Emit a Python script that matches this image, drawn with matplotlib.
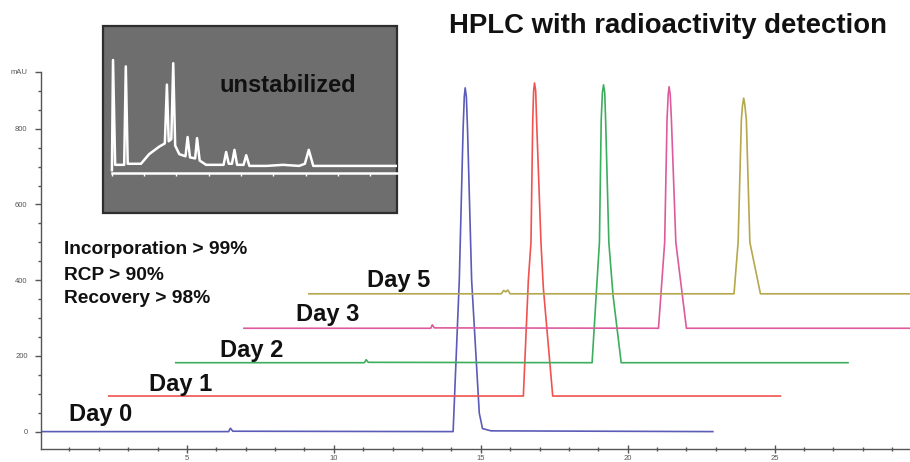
import numpy as np
import matplotlib
matplotlib.use('Agg')
import matplotlib.pyplot as plt
from matplotlib.ticker import MultipleLocator, FixedLocator

plt.rcParams['font.family'] = ['Liberation Sans', 'DejaVu Sans']

# chromatogram traces: time (min), signal (mAU)
day0_t = [0.0, 6.42, 6.48, 6.56, 14.06, 14.27, 14.40, 14.44, 14.47, 14.51, 14.55, 14.69, 14.95, 15.06, 15.35, 22.9]
day0_v = [0, 0, 9, 1, 0, 400, 800, 885, 908, 885, 800, 400, 49, 8, 2, 0]

day1_t = [2.34, 16.45, 16.62, 16.71, 16.77, 16.80, 16.83, 16.87, 16.90, 17.05, 17.13, 17.45, 25.2]
day1_v = [94, 94, 400, 500, 823, 900, 921, 900, 823, 500, 380, 94, 94]

day2_t = [4.62, 11.04, 11.1, 11.17, 18.79, 18.93, 19.04, 19.10, 19.14, 19.18, 19.22, 19.25, 19.36, 19.50, 19.78, 27.5]
day2_v = [182, 182, 190, 183, 182, 362, 500, 823, 895, 916, 895, 823, 500, 362, 182, 182]

day3_t = [6.94, 13.30, 13.35, 13.42, 21.05, 21.26, 21.34, 21.38, 21.41, 21.45, 21.49, 21.64, 22.0, 30.0]
day3_v = [273, 273, 282, 274, 273, 500, 823, 890, 911, 890, 823, 500, 273, 273]

day5_t = [9.15, 15.70, 15.78, 15.85, 15.92, 16.0, 23.62, 23.76, 23.87, 23.91, 23.95, 23.99, 24.04, 24.16, 24.52, 30.0]
day5_v = [364, 364, 373, 369, 374, 364, 364, 500, 823, 862, 881, 862, 823, 500, 364, 364]

traces = [
    (day0_t, day0_v, '#5b5bb8', 'Day 0', 0.97, 28),
    (day1_t, day1_v, '#f0524f', 'Day 1', 3.70, 106),
    (day2_t, day2_v, '#3cae5e', 'Day 2', 6.12, 198),
    (day3_t, day3_v, '#dd5b9d', 'Day 3', 8.71, 291),
    (day5_t, day5_v, '#b5a84c', 'Day 5', 11.13, 383),
]

# unstabilized run (inset), arbitrary units
inset_t = [0.0, 0.17, 0.5, 1.9, 2.15, 2.45, 4.5, 5.77, 7.33, 8.2, 8.52, 8.8, 9.2, 9.5, 9.8,
           10.44, 11.4, 11.73, 12.1, 12.9, 13.19, 13.6, 14.59, 17.3, 17.7, 18.1, 18.6, 18.99,
           19.4, 20.4, 20.81, 21.3, 24.0, 26.5, 29.0, 29.9, 30.5, 31.2, 44.2]
inset_v = [-3, 100, 2, 2, 94, 3, 3, 12, 19, 22, 77, 24, 26, 97, 20,
           12, 10, 28, 9, 8, 27, 6, 2, 2, 14, 3, 3, 16,
           2, 2, 11, 1, 1, 2, 1, 3, 16, 1, 1]

stats = ['Incorporation > 99%', 'RCP > 90%', 'Recovery > 98%']
stats_y = [469, 401, 339]

fig = plt.figure(figsize=(9.1, 4.62), dpi=100)
ax = fig.add_axes([0.0456, 0.0281, 0.9544, 0.8161])

for t, v, c, lab, lx, ly in traces:
    ax.plot(t, v, color=c, lw=1.2, solid_joinstyle='round')
    ax.text(lx, ly, lab, fontsize=17, fontweight='bold', color='#111111', va='baseline')

for s, y in zip(stats, stats_y):
    ax.text(0.80, y, s, fontsize=13.8, fontweight='bold', color='#111111', va='baseline')

ax.set_xlim(0.05, 29.61)
ax.set_ylim(-46, 950)
ax.spines['top'].set_visible(False)
ax.spines['right'].set_visible(False)
for sp in ['left', 'bottom']:
    ax.spines[sp].set_color('#555555')
    ax.spines[sp].set_linewidth(1.0)

ax.xaxis.set_major_locator(FixedLocator([5, 10, 15, 20, 25]))
ax.xaxis.set_minor_locator(MultipleLocator(1))
ax.yaxis.set_major_locator(FixedLocator([0, 200, 400, 600, 800, 950]))
ax.yaxis.set_minor_locator(MultipleLocator(50))
ax.set_yticklabels(['0', '200', '400', '600', '800', 'mAU'])
ax.tick_params(axis='x', which='both', direction='inout', colors='#555555', labelsize=5.5, pad=1)
ax.tick_params(axis='x', which='major', length=6, width=1)
ax.tick_params(axis='x', which='minor', length=3, width=1)
ax.tick_params(axis='y', which='both', direction='out', colors='#555555', labelsize=5.5, pad=6)
ax.tick_params(axis='y', which='major', length=4, width=1)
ax.tick_params(axis='y', which='minor', length=2.5, width=1)

fig.text(0.734, 0.928, 'HPLC with radioactivity detection', fontsize=19.8,
         fontweight='bold', ha='center', va='baseline', color='#111111')

# inset
axi = fig.add_axes([0.1132, 0.539, 0.3231, 0.4048])
axi.set_facecolor('#6e6e6e')
axi.patch.set_edgecolor('#2e2e2e')
axi.patch.set_linewidth(1.6)
axi.plot(inset_t, inset_v, color='white', lw=1.8)
axi.set_xlim(-1.38, 44.18)
axi.set_ylim(-43, 131.8)
for sp in ['top', 'right', 'left']:
    axi.spines[sp].set_visible(False)
axi.spines['bottom'].set_position(('data', -5.6))
axi.spines['bottom'].set_color('white')
axi.spines['bottom'].set_linewidth(1.8)
axi.spines['bottom'].set_bounds(0, 44.18)
axi.set_yticks([])
axi.xaxis.set_major_locator(MultipleLocator(5))
axi.tick_params(axis='x', colors='white', length=2.5, width=1, labelbottom=False)
axi.text(0.395, 0.649, 'unstabilized', transform=axi.transAxes, fontsize=17,
         fontweight='bold', color='#111111', va='baseline')

fig.savefig('out.png', dpi=100)
